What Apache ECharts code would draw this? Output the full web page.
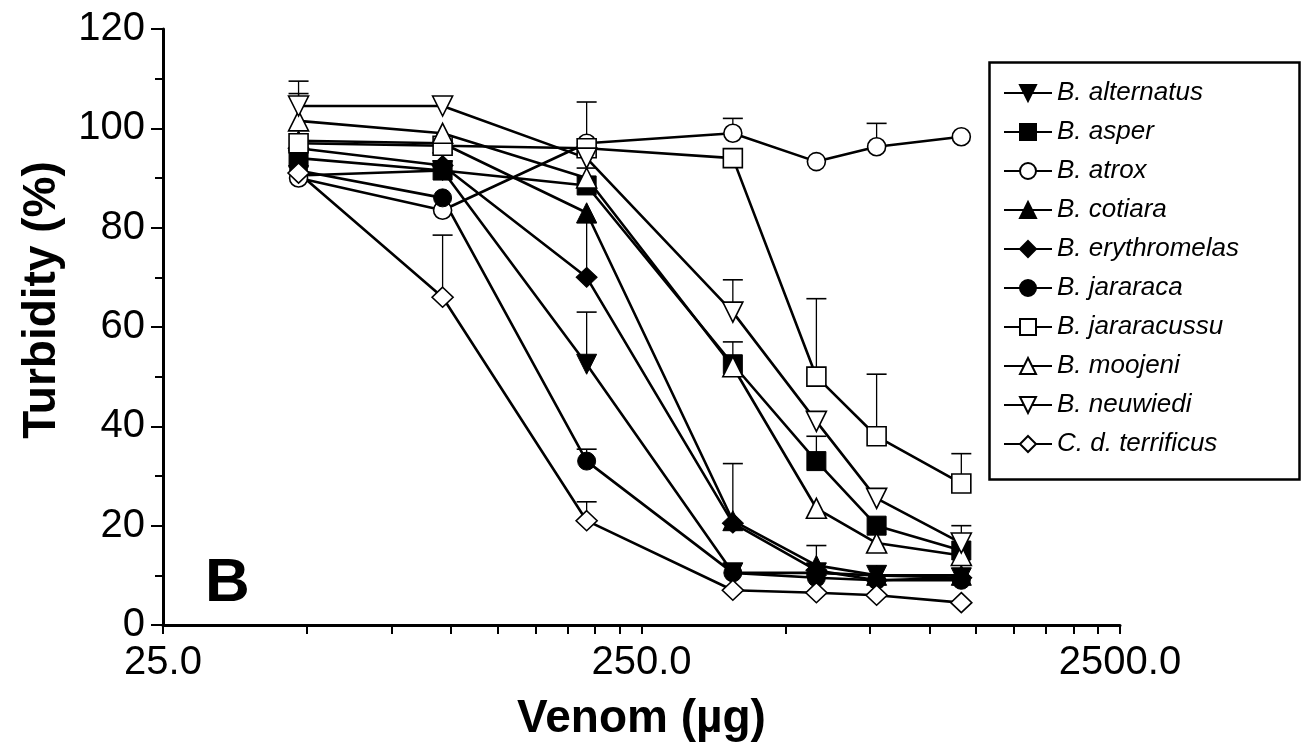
<!DOCTYPE html>
<html>
<head>
<meta charset="utf-8">
<script src="https://cdn.jsdelivr.net/npm/echarts@6/dist/echarts.min.js"></script>
<style>
html,body{margin:0;padding:0;background:#fff;}
#c{width:1315px;height:743px;}
</style>
</head>
<body>
<div id="c"></div>
<script>
// Venom doses (µg)
const doses = [48, 96, 192, 388, 580, 775, 1165];

// Turbidity (%) per species
const alternatus   = [90.5, 91.5, 52.5, 10.5, 10.5, 10, 9.5];
const asper        = [94, 91.5, 88.5, 52.5, 33, 20, 15];
const atrox        = [90, 83.5, 97, 99, 93.3, 96.3, 98.3];
const cotiara      = [97.5, 97, 83, 21, 12, 10, 10];
const erythromelas = [96, 92.5, 70, 20.5, 11, 9, 9.5];
const jararaca     = [91.5, 86, 33, 10.5, 9.5, 9, 9];
const jararacussu  = [97, 96.5, 96, 94, 50, 38, 28.5];
const moojeni      = [101.5, 99, 90, 52, 23.5, 16.5, 14];
const neuwiedi     = [104.5, 104.5, 94, 63, 41, 25.5, 16.5];
const terrificus   = [91, 66, 21, 7, 6.5, 6, 4.5];

// Upper error (SD) where a bar is visible
const errAlternatus   = [null, null, 10.5, null, null, null, null];
const errAsper        = [null, null, 3.5, 4.5, 5, null, 5];
const errAtrox        = [null, null, 8.3, 3, null, 4.7, null];
const errCotiara      = [null, null, null, null, 4, null, null];
const errErythromelas = [null, null, 11, 12, null, null, null];
const errJararaca     = [null, null, 2.4, null, null, null, null];
const errJararacussu  = [null, null, null, null, 15.7, 12.5, 6];
const errMoojeni      = [5.5, null, null, null, null, null, null];
const errNeuwiedi     = [5, null, null, 6.5, null, null, null];
const errTerrificus   = [null, 12.5, 3.8, null, null, null, null];

const xLabelTicks = [25, 250, 2500];
const xMinorTicks = [50, 75, 100, 125, 150, 175, 200, 225, 500, 750, 1000, 1250, 1500, 1750, 2000, 2250];

const FONT = '"Liberation Sans", Arial, sans-serif';

const speciesDefs = [
  {name: 'B. alternatus',   vals: alternatus,   err: errAlternatus,   symbol: 'triangle', rotate: 180, filled: true,  size: 20},
  {name: 'B. asper',        vals: asper,        err: errAsper,        symbol: 'rect',     rotate: 0,   filled: true,  size: 19},
  {name: 'B. atrox',        vals: atrox,        err: errAtrox,        symbol: 'circle',   rotate: 0,   filled: false, size: 18},
  {name: 'B. cotiara',      vals: cotiara,      err: errCotiara,      symbol: 'triangle', rotate: 0,   filled: true,  size: 20},
  {name: 'B. erythromelas', vals: erythromelas, err: errErythromelas, symbol: 'diamond',  rotate: 0,   filled: true,  size: [21, 20]},
  {name: 'B. jararaca',     vals: jararaca,     err: errJararaca,     symbol: 'circle',   rotate: 0,   filled: true,  size: 18},
  {name: 'B. jararacussu',  vals: jararacussu,  err: errJararacussu,  symbol: 'rect',     rotate: 0,   filled: false, size: 19},
  {name: 'B. moojeni',      vals: moojeni,      err: errMoojeni,      symbol: 'triangle', rotate: 0,   filled: false, size: 20},
  {name: 'B. neuwiedi',     vals: neuwiedi,     err: errNeuwiedi,     symbol: 'triangle', rotate: 180, filled: false, size: 20},
  {name: 'C. d. terrificus',vals: terrificus,   err: errTerrificus,   symbol: 'diamond',  rotate: 0,   filled: false, size: [21, 20]}
];

const errData = [];
speciesDefs.forEach(s => {
  s.err.forEach((e, i) => {
    if (e != null) errData.push([doses[i], s.vals[i], e]);
  });
});

const series = [{
  type: 'custom',
  name: 'errors',
  z: 1,
  silent: true,
  data: errData,
  encode: {x: 0, y: 1},
  renderItem: function (params, api) {
    const x = api.value(0), y = api.value(1), e = api.value(2);
    const p0 = api.coord([x, y]);
    const p1 = api.coord([x, y + e]);
    return {
      type: 'group',
      children: [
        {type: 'line', shape: {x1: p0[0], y1: p0[1], x2: p1[0], y2: p1[1]}, style: {stroke: '#000', lineWidth: 1.3}},
        {type: 'line', shape: {x1: p1[0] - 10, y1: p1[1], x2: p1[0] + 10, y2: p1[1]}, style: {stroke: '#000', lineWidth: 1.6}}
      ]
    };
  }
}];

speciesDefs.forEach(s => {
  series.push({
    type: 'line',
    name: s.name,
    z: 2,
    data: doses.map((d, i) => [d, s.vals[i]]),
    symbol: s.symbol,
    symbolRotate: s.rotate,
    symbolSize: s.size,
    showAllSymbol: true,
    lineStyle: {color: '#000', width: 2.6},
    itemStyle: {
      color: s.filled ? '#000' : '#fff',
      borderColor: '#000',
      borderWidth: s.filled ? 1 : 1.6
    }
  });
});

const chart = echarts.init(document.getElementById('c'), null, {renderer: 'canvas'});
chart.setOption({
  animation: false,
  backgroundColor: '#fff',
  grid: {left: 163, right: 195, top: 29, bottom: 118, containLabel: false, outerBoundsMode: 'none'},
  xAxis: {
    type: 'log',
    logBase: 10,
    min: 25,
    max: 2500,
    name: 'Venom (\u00b5g)',
    nameLocation: 'middle',
    nameGap: 71,
    nameTextStyle: {fontFamily: FONT, fontSize: 46, fontWeight: 'bold', color: '#000'},
    axisLine: {show: true, lineStyle: {color: '#000', width: 3}},
    axisTick: {show: true, length: 9, customValues: xLabelTicks.concat(xMinorTicks), lineStyle: {color: '#000', width: 2}},
    axisLabel: {
      customValues: xLabelTicks,
      margin: 18,
      fontFamily: FONT, fontSize: 40, color: '#000',
      formatter: v => Number(v).toFixed(1)
    },
    splitLine: {show: false},
    minorTick: {show: false}
  },
  yAxis: {
    type: 'value',
    min: 0,
    max: 120,
    interval: 20,
    name: 'Turbidity (%)',
    nameLocation: 'middle',
    nameGap: 98,
    nameTextStyle: {fontFamily: FONT, fontSize: 46, fontWeight: 'bold', color: '#000', padding: [0, 0, 0, 54]},
    axisLine: {show: true, lineStyle: {color: '#000', width: 3}},
    axisTick: {show: true, length: 12, lineStyle: {color: '#000', width: 2}},
    minorTick: {show: true, splitNumber: 2, length: 8, lineStyle: {color: '#000', width: 2}},
    axisLabel: {margin: 18, fontFamily: FONT, fontSize: 40, color: '#000'},
    splitLine: {show: false}
  },
  legend: {
    data: speciesDefs.map(s => s.name),
    orient: 'vertical',
    left: 1003,
    top: 80,
    padding: 0,
    itemWidth: 48,
    itemHeight: 20,
    itemGap: 13,
    textStyle: {fontFamily: FONT, fontSize: 26, fontStyle: 'italic', color: '#000'},
    selectedMode: false
  },
  graphic: [
    {type: 'rect', left: 987, top: 60, shape: {width: 310, height: 417}, style: {fill: 'none', stroke: '#000', lineWidth: 2.5}, z: 0},
    {type: 'text', left: 205, top: 553, style: {text: 'B', font: 'bold 62px ' + FONT, fill: '#000'}}
  ],
  series: series
});
</script>
</body>
</html>
